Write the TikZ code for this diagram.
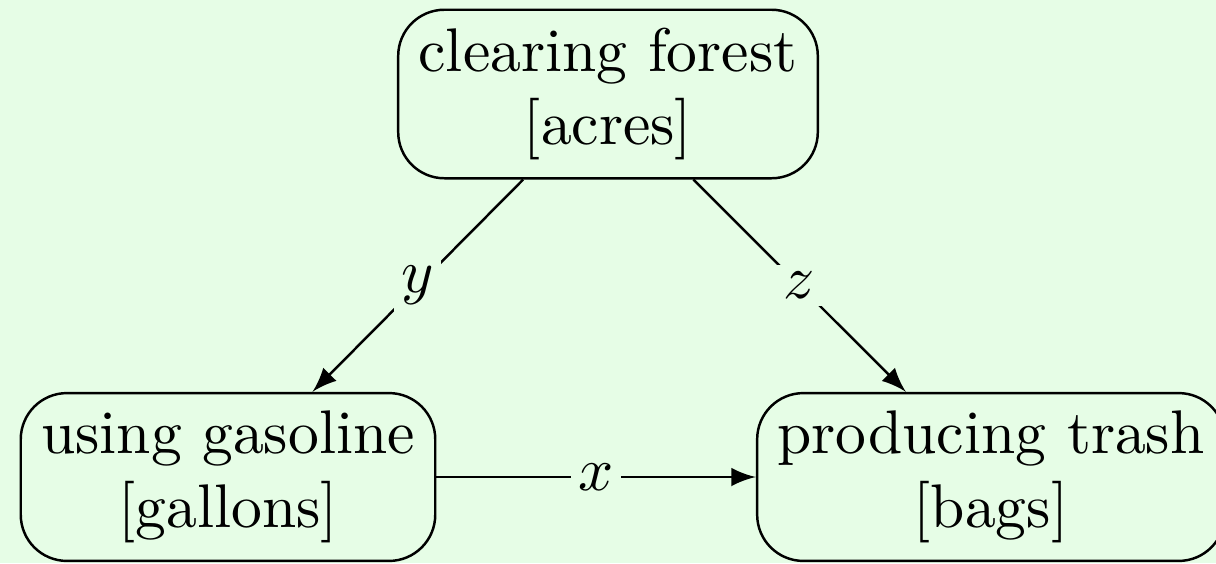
\documentclass[tikz,border=0pt]{standalone}
\usetikzlibrary{arrows}
\definecolor{bggreen}{RGB}{230,253,230}

\begin{document}
\begin{tikzpicture}[x=0.1623pt,y=-0.1623pt,
    box/.style={draw,rounded corners=7.5pt,align=center,inner xsep=3.3pt,inner ysep=2.9pt},
    lbl/.style={fill=bggreen,inner sep=1.2pt}]
    \fill[bggreen] (0,0) rectangle (1216,563);
    \useasboundingbox (0,0) rectangle (1216,563);

    \node[box] (forest) at (608,94) {clearing forest\\{[acres]}};
    \node[box] (gas) at (228,477) {using gasoline\\{[gallons]}};
    \node[box] (trash) at (991,477) {producing trash\\{[bags]}};

    \draw[-latex] (forest)--node[lbl]{\(y\)}(gas);
    \draw[-latex] (forest)--node[lbl]{\(z\)}(trash);
    \draw[-latex] (gas)--node[lbl]{\(x\)}(trash);
\end{tikzpicture}
\end{document}
